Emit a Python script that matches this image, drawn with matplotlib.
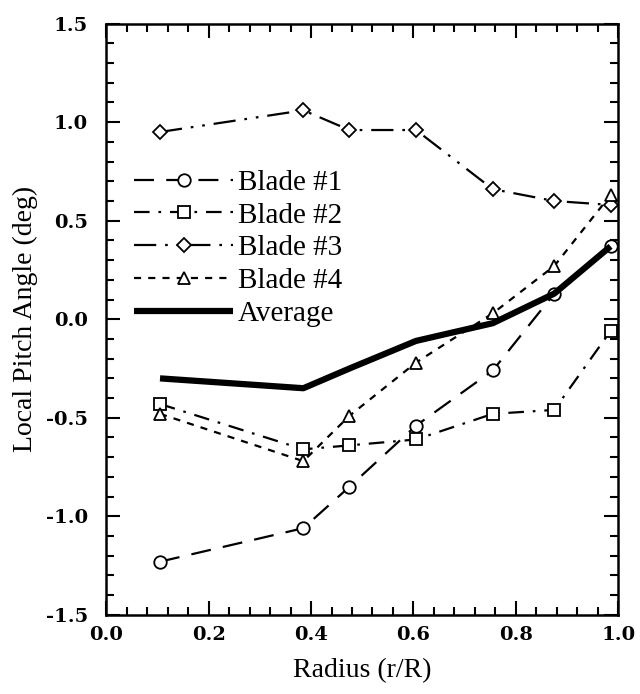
import matplotlib.pyplot as plt
from matplotlib.ticker import MultipleLocator

# radial stations (r/R)
radius = [0.105, 0.385, 0.475, 0.605, 0.755, 0.875, 0.985]

# local pitch angle per blade (deg)
blade1 = [-1.23, -1.06, -0.85, -0.54, -0.26, 0.13, 0.37]
blade2 = [-0.43, -0.66, -0.64, -0.61, -0.48, -0.46, -0.06]
blade3 = [0.95, 1.06, 0.96, 0.96, 0.66, 0.60, 0.58]
blade4 = [-0.48, -0.72, -0.49, -0.22, 0.03, 0.27, 0.63]
average = [-0.30, -0.35, -0.25, -0.11, -0.02, 0.13, 0.37]

plt.rcParams['font.family'] = ['Liberation Serif', 'DejaVu Serif']
plt.rcParams['axes.unicode_minus'] = False

fig = plt.figure(figsize=(6.4, 6.94), dpi=100)
ax = fig.add_axes([0.166, 0.114, 0.800, 0.852])

mk = dict(markerfacecolor='white', markeredgecolor='black', markeredgewidth=1.3,
          color='black', linewidth=1.6, markersize=9)

ax.plot(radius, blade1, marker='o', dashes=(9, 5.5), label='Blade #1', **mk)
ax.plot(radius, blade2, marker='s', dashes=(7, 4, 1.2, 4), label='Blade #2', **mk)
ax.plot(radius, blade3, marker='D', dashes=(10, 4, 1.2, 4, 1.2, 4), label='Blade #3',
        **{**mk, 'markersize': 7.5})
ax.plot(radius, blade4, marker='^', dashes=(3.2, 3.2), label='Blade #4', **mk)
ax.plot(radius, average, color='black', linewidth=4.5, solid_capstyle='butt',
        label='Average')

ax.set_xlim(0.0, 1.0)
ax.set_ylim(-1.5, 1.5)
ax.xaxis.set_major_locator(MultipleLocator(0.2))
ax.xaxis.set_minor_locator(MultipleLocator(0.04))
ax.yaxis.set_major_locator(MultipleLocator(0.5))
ax.yaxis.set_minor_locator(MultipleLocator(0.1))
ax.xaxis.set_major_formatter('{x:.1f}')
ax.yaxis.set_major_formatter('{x:.1f}')

ax.tick_params(which='both', direction='in', top=True, right=True, width=1.5)
ax.tick_params(which='major', length=10)
ax.tick_params(axis='y', which='major', pad=13)
ax.tick_params(axis='x', which='major', pad=8)
ax.tick_params(which='minor', length=6)
for lbl in ax.get_xticklabels() + ax.get_yticklabels():
    lbl.set_fontfamily('DejaVu Serif')
    lbl.set_fontweight('bold')
    lbl.set_fontsize(14)
for s in ax.spines.values():
    s.set_linewidth(1.8)

ax.set_xlabel('Radius (r/R)', fontsize=20, labelpad=10)
ax.set_ylabel('Local Pitch Angle (deg)', fontsize=20, labelpad=6)

ax.legend(loc='upper left', bbox_to_anchor=(0.02, 0.783), frameon=False,
          fontsize=21, handlelength=3.4, numpoints=1, handletextpad=0.15,
          labelspacing=0.22, borderaxespad=0.2)

fig.savefig('out.png', dpi=100)
